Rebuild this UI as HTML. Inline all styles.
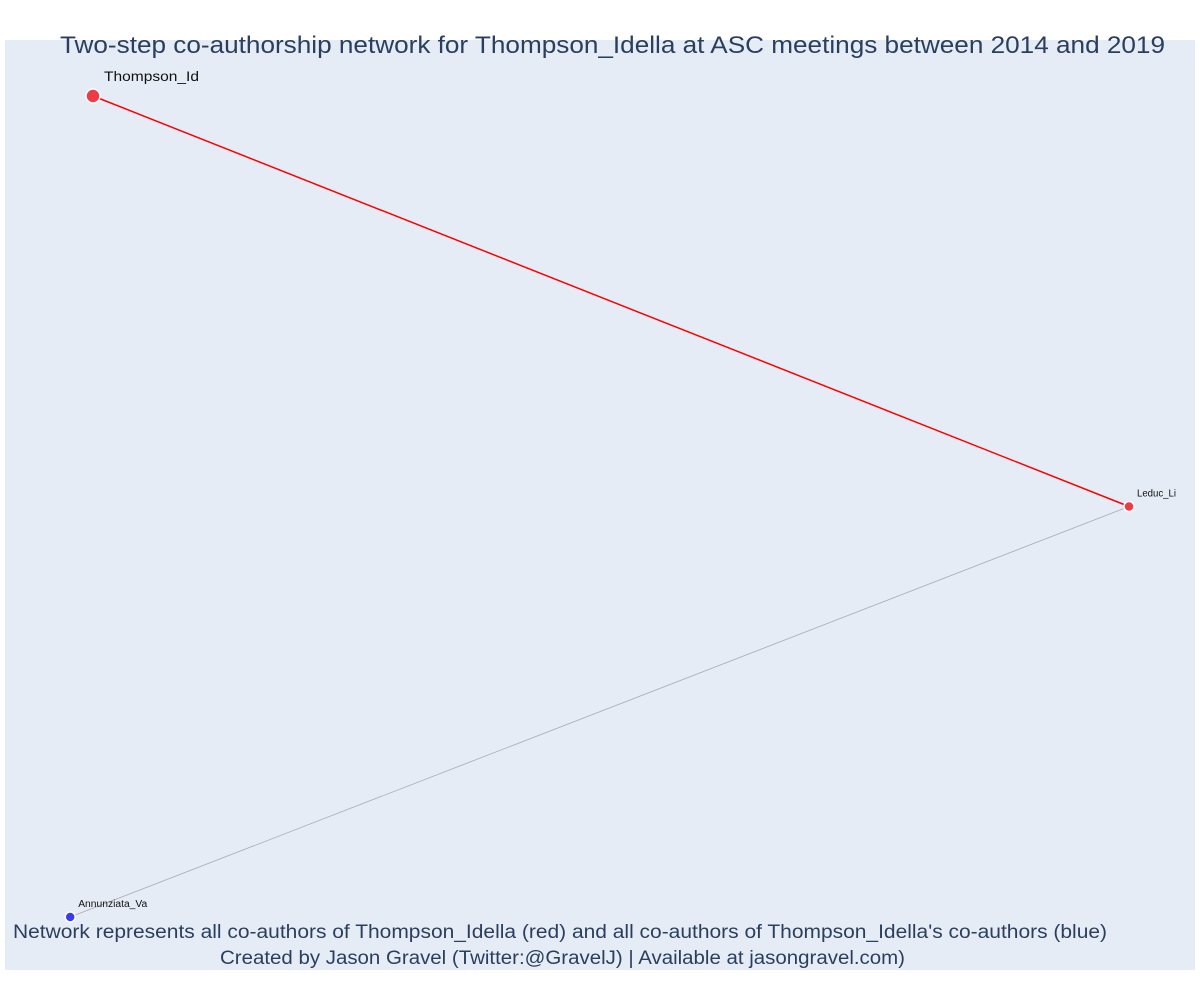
<!DOCTYPE html>
<html><head><meta charset="utf-8"><style>
body{margin:0;background:#fff;font-family:"Liberation Sans",sans-serif}
svg text{font-family:"Liberation Sans",sans-serif}
</style></head><body>
<svg id="chart" width="1200" height="1000" xmlns="http://www.w3.org/2000/svg">
<rect x="5" y="40" width="1190" height="930" fill="#E5ECF6"/>
<g id="edges"></g>
<g id="nodes"></g>
<text x="60" y="53" font-size="24" fill="#2a3f5f" textLength="1105" lengthAdjust="spacingAndGlyphs">Two-step co-authorship network for Thompson_Idella at ASC meetings between 2014 and 2019</text>
<text x="13" y="938" font-size="19" fill="#2a3f5f" textLength="1094" lengthAdjust="spacingAndGlyphs">Network represents all co-authors of Thompson_Idella (red) and all co-authors of Thompson_Idella's co-authors (blue)</text>
<text x="220" y="964" font-size="19" fill="#2a3f5f" textLength="685" lengthAdjust="spacingAndGlyphs">Created by Jason Gravel (Twitter:@GravelJ) | Available at jasongravel.com)</text>
</svg>
<script>
const nodeNames = ["Thompson_Id", "Leduc_Li", "Annunziata_Va"];
const nodeX = [0.0, 1.0, -0.022];
const nodeY = [1.0, 0.5, 0.0];
const nodeColor = ["#EF3B46", "#EF3B46", "#3B3BEF"];
const nodeSize = [7, 5, 5];
const labelSize = [14, 10, 10];
const labelWidth = [95, 39, 69];
const edgeFrom = [0, 1];
const edgeTo = [1, 2];
const edgeColor = ["#FF0000", "#AAAAAA"];
const edgeWidth = [1.5, 0.8];

const NS = "http://www.w3.org/2000/svg";
function xScale(v){ return 93 + v * (1129 - 93); }
function yScale(v){ return 917 - v * (917 - 96); }

const eg = document.getElementById('edges');
edgeFrom.forEach((f, i) => {
  const t = edgeTo[i];
  const l = document.createElementNS(NS, 'line');
  
  
  l.setAttribute('x1', xScale(nodeX[f])); l.setAttribute('y1', yScale(nodeY[f]));
  l.setAttribute('x2', xScale(nodeX[t])); l.setAttribute('y2', yScale(nodeY[t]));
  l.setAttribute('stroke', edgeColor[i]); l.setAttribute('stroke-width', edgeWidth[i]);
  eg.appendChild(l);
});
const ng = document.getElementById('nodes');
nodeNames.forEach((n, i) => {
  const c = document.createElementNS(NS, 'circle');
  
  
  c.setAttribute('cx', xScale(nodeX[i])); c.setAttribute('cy', yScale(nodeY[i]));
  c.setAttribute('r', nodeSize[i]); c.setAttribute('fill', nodeColor[i]);
  c.setAttribute('stroke', '#fff'); c.setAttribute('stroke-width', 1.5);
  ng.appendChild(c);
  const t = document.createElementNS(NS, 'text');
  
  
  t.setAttribute('x', xScale(nodeX[i]) + (i === 0 ? 11 : 8));
  t.setAttribute('y', yScale(nodeY[i]) - (i === 0 ? 15 : 10));
  t.setAttribute('font-size', labelSize[i]); t.setAttribute('fill', '#111');
  t.setAttribute('textLength', labelWidth[i]);
  t.setAttribute('lengthAdjust', 'spacingAndGlyphs');
  t.textContent = n;
  ng.appendChild(t);
});
</script>
</body></html>
